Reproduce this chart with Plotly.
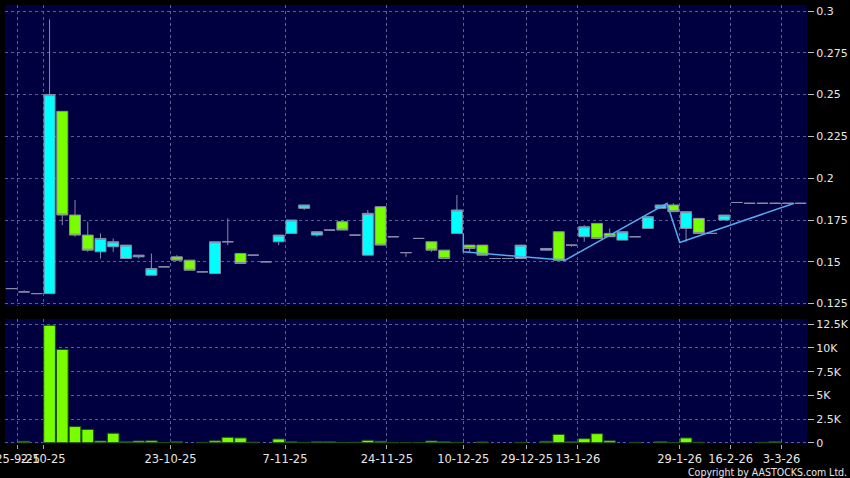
import plotly.graph_objects as go

# ---- data (slot index based; slot 41 has no trade) ----
idx = [0, 1, 2, 3, 4, 5, 6, 7, 8, 9, 10, 11, 12, 13, 14, 15, 16, 17, 18, 19, 20,
       21, 22, 23, 24, 25, 26, 27, 28, 29, 30, 31, 32, 33, 34, 35, 36, 37, 38, 39, 40,
       42, 43, 44, 45, 46, 47, 48, 49, 50, 51, 52, 53, 54, 55, 56, 57, 58, 59, 60, 61, 62]
opens = [0.134, 0.132, 0.131, 0.131, 0.240, 0.178, 0.166, 0.156, 0.159, 0.152, 0.153,
         0.142, 0.147, 0.153, 0.151, 0.144, 0.143, 0.162, 0.155, 0.154, 0.150,
         0.162, 0.167, 0.182, 0.166, 0.169, 0.174, 0.166, 0.154, 0.183, 0.165,
         0.1555, 0.164, 0.162, 0.157, 0.167, 0.160, 0.160, 0.152, 0.152, 0.152,
         0.157, 0.168, 0.160, 0.165, 0.173, 0.167, 0.163, 0.165, 0.170, 0.182,
         0.184, 0.170, 0.176, 0.167, 0.175, 0.1855, 0.185, 0.185, 0.185, 0.185, 0.185]
highs = [0.134, 0.133, 0.131, 0.295, 0.240, 0.187, 0.174, 0.167, 0.164, 0.160, 0.154,
         0.155, 0.147, 0.154, 0.151, 0.144, 0.162, 0.176, 0.155, 0.154, 0.150,
         0.166, 0.175, 0.184, 0.168, 0.169, 0.175, 0.166, 0.181, 0.183, 0.165,
         0.1555, 0.164, 0.162, 0.157, 0.190, 0.160, 0.160, 0.152, 0.152, 0.160,
         0.158, 0.168, 0.160, 0.172, 0.173, 0.170, 0.168, 0.165, 0.177, 0.184,
         0.185, 0.180, 0.176, 0.167, 0.178, 0.1855, 0.185, 0.185, 0.185, 0.185, 0.185]
lows = [0.134, 0.132, 0.131, 0.131, 0.172, 0.165, 0.156, 0.152, 0.156, 0.152, 0.152,
        0.142, 0.147, 0.151, 0.145, 0.144, 0.143, 0.160, 0.149, 0.154, 0.150,
        0.160, 0.167, 0.181, 0.165, 0.169, 0.169, 0.166, 0.154, 0.160, 0.165,
        0.153, 0.164, 0.156, 0.152, 0.167, 0.156, 0.154, 0.152, 0.152, 0.152,
        0.157, 0.151, 0.159, 0.162, 0.164, 0.165, 0.163, 0.165, 0.170, 0.182,
        0.180, 0.162, 0.167, 0.167, 0.175, 0.1855, 0.185, 0.185, 0.185, 0.185, 0.185]
closes = [0.134, 0.132, 0.131, 0.250, 0.178, 0.166, 0.157, 0.164, 0.162, 0.160, 0.154,
          0.146, 0.147, 0.151, 0.145, 0.144, 0.162, 0.162, 0.149, 0.154, 0.150,
          0.166, 0.175, 0.184, 0.168, 0.169, 0.169, 0.166, 0.179, 0.160, 0.165,
          0.1555, 0.164, 0.157, 0.152, 0.181, 0.158, 0.154, 0.152, 0.152, 0.160,
          0.158, 0.151, 0.160, 0.171, 0.164, 0.165, 0.168, 0.165, 0.177, 0.184,
          0.180, 0.180, 0.167, 0.167, 0.178, 0.1855, 0.185, 0.185, 0.185, 0.185, 0.185]
volumes = [None, 150, None, 12400, 9850, 1700, 1400, 180, 1000, 100, 180,
           200, 20, 100, None, 30, 200, 570, 500, 60, None,
           390, 100, 30, 100, 100, 30, 40, 250, 150, 20,
           20, 20, 180, 120, 30, None, 80, None, None, 30,
           150, 880, 100, 420, 950, 200, None, 30, None, 130,
           30, 500, 50, None, None, None, None, 30, 100, None, None]

# trend line vertices (slot positions / prices)
trend_x = [35.5, 35.5, 43.5, 51.5, 52.5, 61.5]
trend_y = [0.167, 0.156, 0.151, 0.185, 0.1616, 0.185]

# x tick labels (placed at left edge of slot)
tick_slots = [1, 3, 13, 22, 30, 36, 41, 45, 53, 57, 61]
tick_labels = ["25-9-25", "2-10-25", "23-10-25", "7-11-25", "24-11-25", "10-12-25",
               "29-12-25", "13-1-26", "29-1-26", "16-2-26", "3-3-26"]

price_ticks = [0.125, 0.15, 0.175, 0.2, 0.225, 0.25, 0.275, 0.3]
price_tick_text = ["0.125", "0.15", "0.175", "0.2", "0.225", "0.25", "0.275", "0.3"]
vol_ticks = [0, 2500, 5000, 7500, 10000, 12500]
vol_tick_text = ["0", "2.5K", "5K", "7.5K", "10K", "12.5K"]

# ---- styling ----
BG = "#000040"
GRID = "#5c5c96"
TXT = "#e6e6e6"
FONT = "DejaVu Sans"
CYAN = "#00ffff"
LIME = "#77ff00"
EDGE = "#8a8aa6"

fig = go.Figure()

fig.add_trace(go.Candlestick(
    x=idx, open=opens, high=highs, low=lows, close=closes,
    increasing=dict(fillcolor=CYAN, line=dict(color=EDGE, width=1)),
    decreasing=dict(fillcolor=LIME, line=dict(color=EDGE, width=1)),
    whiskerwidth=0, xaxis="x", yaxis="y", showlegend=False, hoverinfo="skip"))

fig.add_trace(go.Scatter(
    x=trend_x, y=trend_y, mode="lines",
    line=dict(color="#55aaee", width=1.5),
    xaxis="x", yaxis="y", showlegend=False, hoverinfo="skip"))

fig.add_trace(go.Bar(
    x=idx, y=volumes,
    marker=dict(color=LIME, line=dict(color="#1f4a10", width=1)),
    xaxis="x2", yaxis="y2", showlegend=False, hoverinfo="skip"))

tickvals_x = [s - 0.5 for s in tick_slots]
x_range = [-0.5, 62.5]

common_x = dict(range=x_range, autorange=False, showgrid=True, gridcolor=GRID,
                griddash="3px,3px", gridwidth=1, zeroline=False, showline=False,
                tickmode="array", tickvals=tickvals_x, domain=[0, 1])

fig.update_layout(
    width=850, height=478,
    paper_bgcolor="#000000", plot_bgcolor=BG,
    margin=dict(l=5, r=43, t=5, b=34, autoexpand=False),
    font=dict(family=FONT, size=11, color=TXT),
    boxgap=0.14, boxgroupgap=0, bargap=0.08,
    hovermode=False,
    xaxis=dict(**common_x, anchor="y", showticklabels=False,
               ticks="", rangeslider=dict(visible=False)),
    xaxis2=dict(**common_x, anchor="y2",
                ticktext=tick_labels, showticklabels=True, ticks="outside",
                ticklen=4, tickcolor="#aaaaaa", tickangle=0,
                ticklabeloverflow="allow",
                tickfont=dict(size=11.5, color=TXT)),
    yaxis=dict(domain=[0.3144, 1], range=[0.1236, 0.3036], autorange=False, side="right",
               tickmode="array", tickvals=price_ticks, ticktext=price_tick_text,
               showgrid=True, gridcolor=GRID, griddash="3px,3px", zeroline=False,
               ticks="outside", ticklen=6, tickcolor="#bbbbbb", showline=False,
               ticklabeloverflow="allow",
               tickfont=dict(size=11, color=TXT)),
    yaxis2=dict(domain=[0, 0.2847], range=[-140, 13060], autorange=False, side="right",
                tickmode="array", tickvals=vol_ticks, ticktext=vol_tick_text,
                showgrid=True, gridcolor=GRID, griddash="3px,3px", zeroline=False,
                ticks="outside", ticklen=6, tickcolor="#bbbbbb", showline=False,
                ticklabeloverflow="allow",
                tickfont=dict(size=11, color=TXT)),
    annotations=[dict(text="Copyright by AASTOCKS.com Ltd.", xref="paper", yref="paper",
                      x=1.0525, y=-0.064, xanchor="right", yanchor="middle",
                      showarrow=False, font=dict(family="DejaVu Sans Condensed", size=10.5, color=TXT))],
)

fig.write_html("out.html", config={"displayModeBar": False, "staticPlot": True},
               post_script="document.body.style.margin='0';")
